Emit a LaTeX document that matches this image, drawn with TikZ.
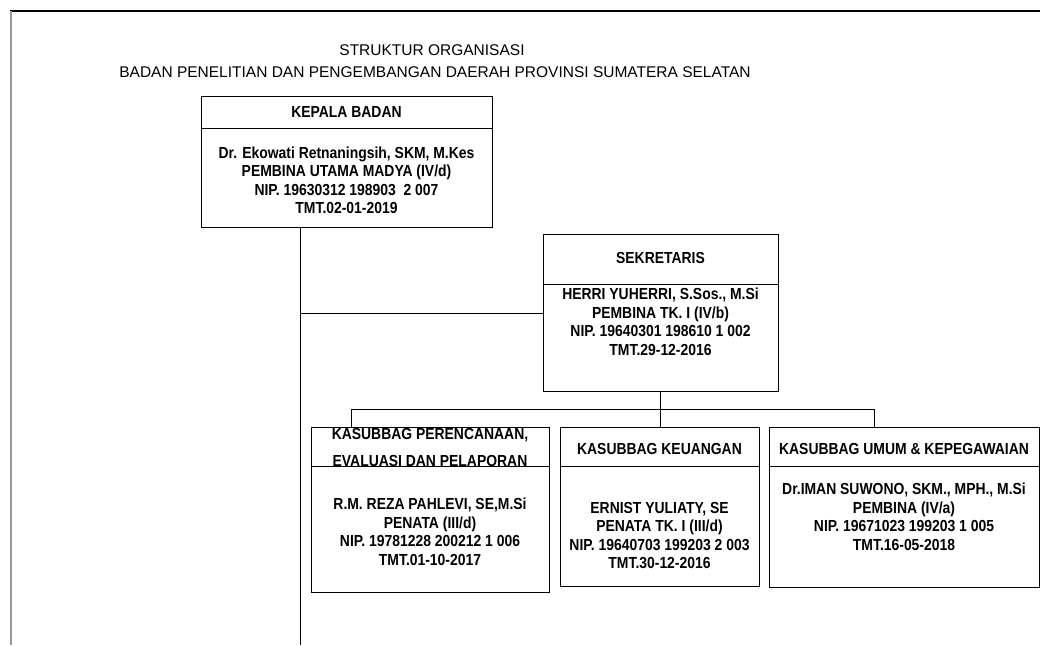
\documentclass[tikz,border=0pt]{standalone}
\usepackage{fontspec}
\setmainfont{Liberation Sans}
\newfontfamily\boxfont{Liberation Sans}[FakeStretch=0.87]
\usetikzlibrary{calc}
\begin{document}
\begin{tikzpicture}[x=1pt,y=-1pt,
  box/.style={draw, line width=0.9pt, inner sep=0pt, anchor=center},
  txt/.style={font=\boxfont\bfseries\fontsize{16}{18.5}\selectfont, align=center, inner sep=0pt},
  ttl/.style={font=\fontsize{15.5}{18}\selectfont, inner sep=0pt},
  conn/.style={line width=0.9pt},
  divider/.style={line width=0.9pt}]
\useasboundingbox (0,0) rectangle (1040,645);
% page frame
\draw[line width=1.2pt] (10,11) -- (1040,11);
\draw[gray!80, line width=2pt] (11,11) -- (11,645);
% titles
\node[ttl] (t1) at (432,50) {STRUKTUR ORGANISASI};
\node[ttl] (t2) at (435,72) {BADAN PENELITIAN DAN PENGEMBANGAN DAERAH PROVINSI SUMATERA SELATAN};
% Kepala
\node[box, minimum width=291pt, minimum height=131pt] (kepala) at (346.5,161.5) {};
\draw[divider] ($(kepala.north west)+(0,33)$) -- ($(kepala.north east)+(0,33)$);
\node[txt] (kepalaH) at (346.5,112) {KEPALA BADAN};
\node[txt] (kepalaB) at (346.5,180.5) {Dr. Ekowati Retnaningsih, SKM, M.Kes\\PEMBINA UTAMA MADYA (IV/d)\\NIP. 19630312 198903 \ 2 007\\TMT.02-01-2019};
% Sekretaris
\node[box, minimum width=235pt, minimum height=157pt] (sek) at (660.5,312.5) {};
\draw[divider] ($(sek.north west)+(0,51)$) -- ($(sek.north east)+(0,51)$);
\node[txt] (sekH) at (660.5,258) {SEKRETARIS};
\node[txt] (sekB) at (660.5,322) {HERRI YUHERRI, S.Sos., M.Si\\PEMBINA TK. I (IV/b)\\NIP. 19640301 198610 1 002\\TMT.29-12-2016};
% Kasubbag 1
\node[box, minimum width=238pt, minimum height=165pt] (k1) at (430,509.5) {};
\draw[divider] ($(k1.north west)+(0,40)$) -- ($(k1.north east)+(0,40)$);
\node[txt] (k1H) at (430,447.5) {KASUBBAG PERENCANAAN,\\[8pt]EVALUASI DAN PELAPORAN};
\node[txt] (k1B) at (430,532) {R.M. REZA PAHLEVI, SE,M.Si\\PENATA (III/d)\\NIP. 19781228 200212 1 006\\TMT.01-10-2017};
% Kasubbag 2
\node[box, minimum width=199pt, minimum height=159pt] (k2) at (659.5,506.5) {};
\draw[divider] ($(k2.north west)+(0,40)$) -- ($(k2.north east)+(0,40)$);
\node[txt] (k2H) at (659.5,449) {KASUBBAG KEUANGAN};
\node[txt] (k2B) at (659.5,535.5) {ERNIST YULIATY, SE\\PENATA TK. I (III/d)\\NIP. 19640703 199203 2 003\\TMT.30-12-2016};
% Kasubbag 3
\node[box, minimum width=270pt, minimum height=160pt] (k3) at (904,507) {};
\draw[divider] ($(k3.north west)+(0,40)$) -- ($(k3.north east)+(0,40)$);
\node[txt] (k3H) at (904,449) {KASUBBAG UMUM \& KEPEGAWAIAN};
\node[txt] (k3B) at (904,517) {Dr.IMAN SUWONO, SKM., MPH., M.Si\\PEMBINA (IV/a)\\NIP. 19671023 199203 1 005\\TMT.16-05-2018};
% connectors
\coordinate (kbot) at (300,645);
\coordinate (j1) at (300,313);
\coordinate (b1) at (351,409);
\coordinate (b3) at (874,409);
\draw[conn] ([xshift=-46.5pt]kepala.south) -- (kbot);
\draw[conn] (j1) -- (j1 -| sek.west);
\draw[conn] (sek.south) -- (sek.south |- k2.north);
\draw[conn] (b1) -- (b3);
\draw[conn] (b1) -- (b1 |- k1.north);
\draw[conn] (b3) -- (b3 |- k3.north);
\end{tikzpicture}
\end{document}
